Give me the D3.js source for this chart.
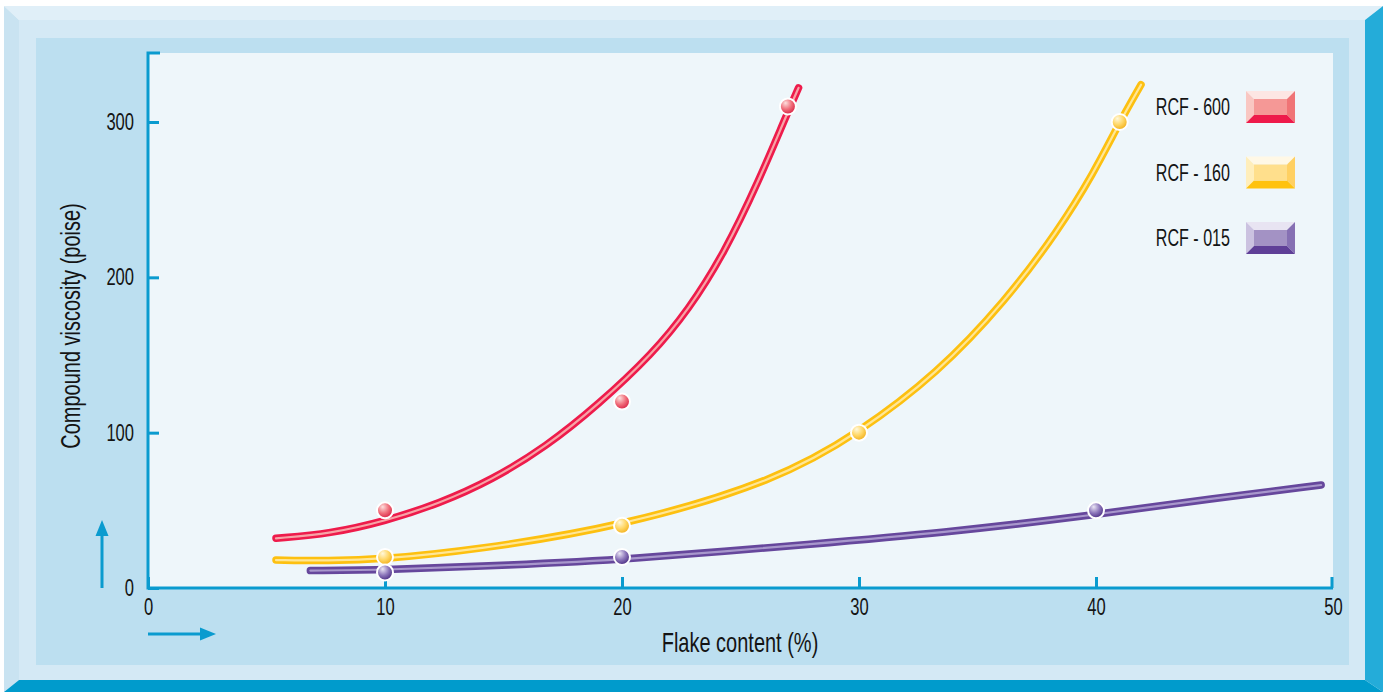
<!DOCTYPE html>
<html>
<head>
<meta charset="utf-8">
<script src="https://cdn.jsdelivr.net/npm/d3@7"></script>
<style>
  html, body { margin: 0; padding: 0; background: #ffffff; }
  svg { display: block; }
  text { font-family: "Liberation Sans", Arial, "DejaVu Sans", sans-serif; fill: #141414; }
</style>
</head>
<body>
<script>
// ---- data -----------------------------------------------------------
const seriesNames = ["RCF - 600", "RCF - 160", "RCF - 015"];

// measured points (flake %, viscosity in poise)
const rcf600Points = [[10, 50], [20, 120], [27, 310]];
const rcf160Points = [[10, 20], [20, 40], [30, 100], [41, 300]];
const rcf015Points = [[10, 10], [20, 20], [40, 50]];

// fitted trend curves, sampled along each line
const rcf600Curve = [[5.4, 32], [7.7, 35], [10, 43], [12.3, 54.5], [14.5, 69.5], [16.8, 91],
  [19, 118], [21.3, 151], [22.8, 179], [24.3, 215], [25.8, 263], [26.9, 303], [27.45, 322]];
const rcf160Curve = [[5.4, 18], [7.6, 17.5], [9.9, 18.5], [13.8, 24.5], [20, 39.5], [26.6, 69.5],
  [30, 100], [33.3, 138], [36.2, 185], [38.4, 230], [39.9, 267], [41, 300], [41.9, 324]];
const rcf015Curve = [[6.85, 11.2], [10, 11.6], [15.3, 14.8], [20, 18], [28.4, 28.8], [33.3, 35.2],
  [40, 47], [44.9, 57.7], [49.5, 66.3]];

const xTicks = [0, 10, 20, 30, 40, 50];
const yTicks = [0, 100, 200, 300];

const xTitle = "Flake content (%)";
const yTitle = "Compound viscosity (poise)";

// ---- styling --------------------------------------------------------
const palette = [
  { line: "#ee1b4b", stripe: "#f7a3a6", hi: "#fde0de", mid: "#f0707c", lo: "#d92446",
    sw: ["#fde6e3", "#f9c7c2", "#f59896", "#f07476", "#ee1a4a"] },
  { line: "#fdc010", stripe: "#ffe695", hi: "#fff8dc", mid: "#ffd766", lo: "#f2b01c",
    sw: ["#fff8e6", "#ffeebb", "#ffdf8c", "#ffd062", "#ffc20e"] },
  { line: "#66479c", stripe: "#a897cc", hi: "#ebe6f5", mid: "#8d77bb", lo: "#4c2f85",
    sw: ["#e8e4f2", "#cbc2e0", "#a392c4", "#8670b3", "#5f3f97"] }
];
const axisColor = "#0a9bcf";
const tickSqueeze = 0.72;   // horizontal squeeze for a condensed look

const W = 1383, H = 692;
const plot = { left: 148, right: 1333, top: 53, bottom: 588 };

const svg = d3.select("body").append("svg").attr("width", W).attr("height", H);

// condensed text helper
function label(parent, tx, ty, str, size, anchor, squeeze, rotate) {
  const g = parent.append("g").attr("transform", `translate(${tx},${ty})` + (rotate ? ` rotate(${rotate})` : ""));
  return g.append("text").attr("transform", `scale(${squeeze},1)`).attr("text-anchor", anchor)
    .style("font-size", size + "px").text(str);
}

// ---- bevelled frame -------------------------------------------------
const frame = svg.append("g");
frame.append("polygon").attr("points", "4,6 1383,6 1365,20 19,20").attr("fill", "#e0eff8");
frame.append("polygon").attr("points", "4,6 19,20 19,680 4,692").attr("fill", "#c9e3f1");
frame.append("polygon").attr("points", "1383,6 1383,692 1365,680 1365,20").attr("fill", "#24acd9");
frame.append("polygon").attr("points", "4,692 19,680 1365,680 1383,692").attr("fill", "#009bcc");
frame.append("rect").attr("x", 19).attr("y", 20).attr("width", 1346).attr("height", 660).attr("fill", "#d4e9f5");
frame.append("rect").attr("x", 36).attr("y", 38).attr("width", 1313).attr("height", 627).attr("fill", "#bcdff0");
frame.append("rect").attr("x", plot.left).attr("y", plot.top)
  .attr("width", plot.right - plot.left).attr("height", plot.bottom - plot.top).attr("fill", "#eef6fa");

// ---- scales ---------------------------------------------------------
const x = d3.scaleLinear().domain([0, 50]).range([plot.left, plot.right]);
const y = d3.scaleLinear().domain([0, 300]).range([plot.bottom, 122]);

// ---- axes -----------------------------------------------------------
const yPad = 14;
const xAxis = d3.axisBottom(x).tickValues(xTicks).tickSize(-11).tickPadding(9).tickFormat(d3.format("d"));
const yAxis = d3.axisLeft(y).tickValues(yTicks).tickSize(-11).tickPadding(yPad).tickFormat(d3.format("d"));

const gx = svg.append("g").attr("transform", `translate(0,${plot.bottom})`).call(xAxis);
const gy = svg.append("g").attr("transform", `translate(${plot.left},0)`).call(yAxis);
[gx, gy].forEach(g => {
  g.attr("font-family", null);
  g.select(".domain").remove();
  g.selectAll(".tick line").attr("stroke", axisColor).attr("stroke-width", 3);
  g.selectAll(".tick text").style("font-size", "23px").attr("fill", "#141414")
    .attr("transform", `scale(${tickSqueeze},1)`);
});
gx.selectAll(".tick text").attr("dy", "0.78em");
gy.selectAll(".tick text").attr("x", -yPad / tickSqueeze);
gx.selectAll(".tick").filter(d => d === 50).select("line").attr("transform", "translate(-1.5,0)");

// axis frame: top cap, y-axis, x-axis
svg.append("path")
  .attr("d", `M${plot.left + 12},${plot.top} H${plot.left} V${plot.bottom} H${plot.right}`)
  .attr("fill", "none").attr("stroke", axisColor).attr("stroke-width", 3);

// direction arrows
function arrow(x1, y1, x2, y2) {
  const ang = Math.atan2(y2 - y1, x2 - x1);
  const L = 16, hw = 6.5;
  const bx = x2 - L * Math.cos(ang), by = y2 - L * Math.sin(ang);
  svg.append("line").attr("x1", x1).attr("y1", y1).attr("x2", bx).attr("y2", by)
    .attr("stroke", axisColor).attr("stroke-width", 3);
  const px = -Math.sin(ang) * hw, py = Math.cos(ang) * hw;
  svg.append("polygon")
    .attr("points", `${x2},${y2} ${bx + px},${by + py} ${bx - px},${by - py}`)
    .attr("fill", axisColor);
}
arrow(102, plot.bottom, 102, 520);
arrow(plot.left, 634, 216, 634);

// axis titles
label(svg, 740, 652, xTitle, 27, "middle", 0.74);
label(svg, 80, 326, yTitle, 27, "middle", 0.74, -90);

// ---- gradients for markers -----------------------------------------
const defs = svg.append("defs");
palette.forEach((p, i) => {
  const g = defs.append("radialGradient").attr("id", "ball" + i)
    .attr("cx", "40%").attr("cy", "35%").attr("r", "65%").attr("fx", "35%").attr("fy", "28%");
  g.append("stop").attr("offset", "0%").attr("stop-color", p.hi);
  g.append("stop").attr("offset", "55%").attr("stop-color", p.mid);
  g.append("stop").attr("offset", "100%").attr("stop-color", p.lo);
});

// ---- curves ---------------------------------------------------------
const curves = [rcf600Curve, rcf160Curve, rcf015Curve];
const points = [rcf600Points, rcf160Points, rcf015Points];
const line = d3.line().x(d => x(d[0])).y(d => y(d[1])).curve(d3.curveBasis);

const drawOrder = [1, 2, 0];
drawOrder.forEach(i => {
  const g = svg.append("g");
  g.append("path").datum(curves[i]).attr("d", line).attr("fill", "none")
    .attr("stroke", palette[i].line).attr("stroke-width", 7.5).attr("stroke-linecap", "round");
  g.append("path").datum(curves[i]).attr("d", line).attr("fill", "none")
    .attr("stroke", palette[i].stripe).attr("stroke-width", 2.2).attr("stroke-linecap", "round");
});

// ---- markers --------------------------------------------------------
drawOrder.forEach(i => {
  svg.append("g").selectAll("circle").data(points[i]).join("circle")
    .attr("cx", d => x(d[0])).attr("cy", d => y(d[1])).attr("r", 8)
    .attr("fill", `url(#ball${i})`).attr("stroke", "#ffffff").attr("stroke-width", 2);
});

// ---- legend ---------------------------------------------------------
const legend = svg.append("g");
seriesNames.forEach((name, i) => {
  const sx = 1246, sy = 91 + i * 65.5, sw = 49, sh = 32, b = 8;
  const c = palette[i].sw;
  const g = legend.append("g");
  g.append("polygon").attr("points", `${sx},${sy} ${sx + sw},${sy} ${sx + sw - b},${sy + b} ${sx + b},${sy + b}`).attr("fill", c[0]);
  g.append("polygon").attr("points", `${sx},${sy} ${sx + b},${sy + b} ${sx + b},${sy + sh - b} ${sx},${sy + sh}`).attr("fill", c[1]);
  g.append("polygon").attr("points", `${sx + sw},${sy} ${sx + sw},${sy + sh} ${sx + sw - b},${sy + sh - b} ${sx + sw - b},${sy + b}`).attr("fill", c[3]);
  g.append("polygon").attr("points", `${sx},${sy + sh} ${sx + b},${sy + sh - b} ${sx + sw - b},${sy + sh - b} ${sx + sw},${sy + sh}`).attr("fill", c[4]);
  g.append("rect").attr("x", sx + b).attr("y", sy + b).attr("width", sw - 2 * b).attr("height", sh - 2 * b).attr("fill", c[2]);
  label(g, 1230, sy + sh / 2 + 8, name, 23, "end", 0.70);
});
</script>
</body>
</html>
